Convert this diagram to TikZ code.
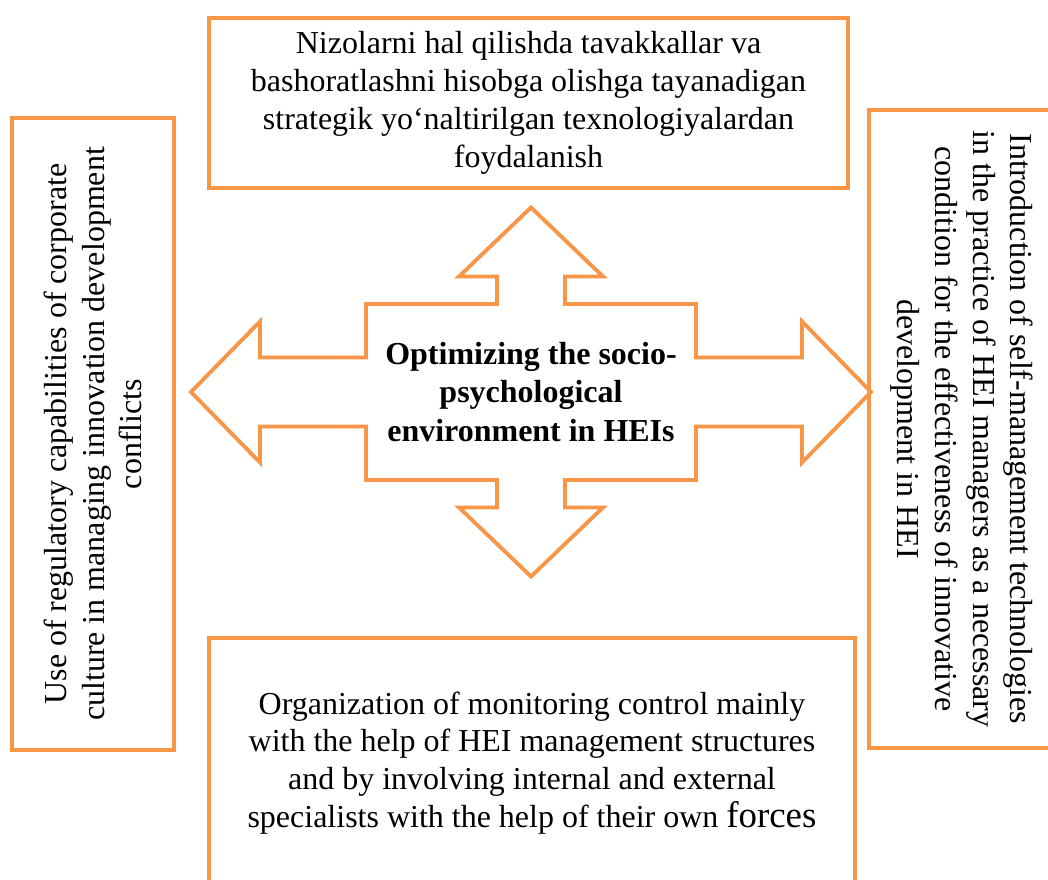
\documentclass[tikz,border=0pt]{standalone}
\usepackage{fontspec}
\setmainfont{Liberation Serif}
\usepackage{xcolor}
\usepackage{tikz}
\usetikzlibrary{calc}
\usetikzlibrary{positioning}
\definecolor{hoorange}{HTML}{F79646}
\tikzset{
	factorbox/.style={draw=hoorange,line width=2.2pt,inner sep=0pt,align=center,font=\fontsize{18.2}{21.5}\selectfont},
	crossarrow/.style={draw=hoorange,line width=2.2pt}
}

\begin{document}
\begin{tikzpicture}[transform shape,scale=1]
			\useasboundingbox (0,0) rectangle (20.96,17.58);
			\node[factorbox,minimum width=12.78cm,minimum height=3.4cm] (top) at (10.57,15.52) {Nizolarni hal qilishda tavakkallar va\\bashoratlashni hisobga olishga tayanadigan\\strategik yo‘naltirilgan texnologiyalardan\\foydalanish};
			\node[factorbox,minimum width=12.92cm,minimum height=5cm] (bottom) at (10.64,2.32) {Organization of monitoring control mainly\\with the help of HEI management structures\\and by involving internal and external\\specialists with the help of their own {\fontsize{21}{21.5}\selectfont forces}};
			\node[factorbox,rotate=90,minimum width=12.64cm,minimum height=3.24cm] (left) at (1.86,8.9) {Use of regulatory capabilities of corporate\\culture in managing innovation development\\conflicts};
			\node[factorbox,rotate=-90,minimum width=12.76cm,minimum height=3.72cm] (right) at (19.24,9.0) {Introduction of self-management technologies\\in the practice of HEI managers as a necessary\\condition for the effectiveness of innovative\\development in HEI};
			\node[align=center,font=\fontsize{18.2}{21.9}\selectfont\bfseries] (core) at (10.62,9.74) {Optimizing the socio-\\psychological\\environment in HEIs};
			\draw[crossarrow,shift={(core.center)}] (0,3.69)--(1.44,2.31)--(0.68,2.31)--(0.68,1.76)--(3.3,1.76)--(3.3,0.69)--(5.42,0.69)--(5.42,1.41)--(6.8,0)
				--(5.42,-1.41)--(5.42,-0.69)--(3.3,-0.69)--(3.3,-1.76)--(0.68,-1.76)--(0.68,-2.31)--(1.44,-2.31)--(0,-3.69)
				--(-1.44,-2.31)--(-0.68,-2.31)--(-0.68,-1.76)--(-3.3,-1.76)--(-3.3,-0.69)--(-5.42,-0.69)--(-5.42,-1.41)--(-6.8,0)
				--(-5.42,1.41)--(-5.42,0.69)--(-3.3,0.69)--(-3.3,1.76)--(-0.68,1.76)--(-0.68,2.31)--(-1.44,2.31)--cycle;
		\end{tikzpicture}
\end{document}
